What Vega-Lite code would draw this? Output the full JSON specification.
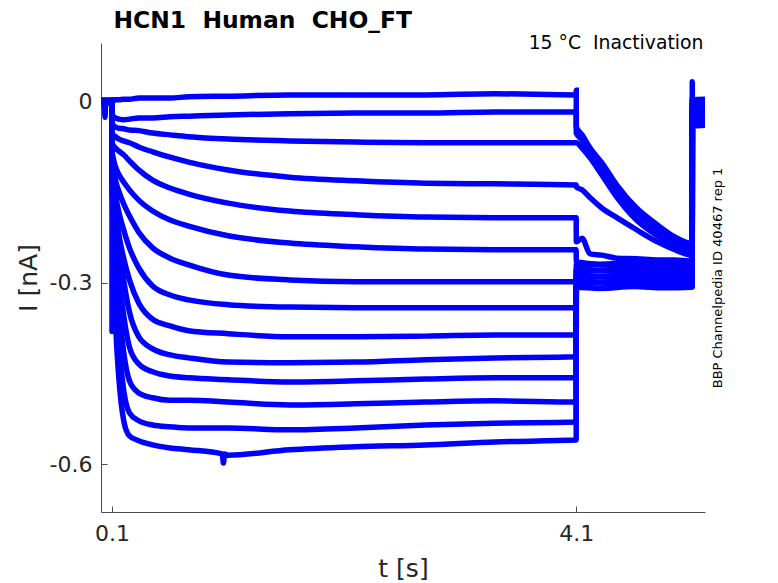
{
  "$schema": "https://vega.github.io/schema/vega-lite/v6.json",
  "background": "#ffffff",
  "autosize": "none",
  "padding": {"left": 101, "top": 43, "right": 73, "bottom": 71},
  "width": 604,
  "height": 469,
  "config": {
    "view": {"stroke": null},
    "font": "DejaVu Sans"
  },
  "data": {
    "values": [
      {"sweep": 1, "t": 0, "I": 0.002}, {"sweep": 1, "t": 0.0995, "I": 0.002},
      {"sweep": 1, "t": 0.1, "I": 0.003}, {"sweep": 1, "t": 0.11, "I": 0.001}, {"sweep": 1, "t": 0.13, "I": 0.003}, {"sweep": 1, "t": 0.16, "I": 0.003},
      {"sweep": 1, "t": 0.2, "I": 0.004}, {"sweep": 1, "t": 0.25, "I": 0.004}, {"sweep": 1, "t": 0.33, "I": 0.006}, {"sweep": 1, "t": 0.45, "I": 0.006},
      {"sweep": 1, "t": 0.6, "I": 0.006}, {"sweep": 1, "t": 0.76, "I": 0.008}, {"sweep": 1, "t": 1.1, "I": 0.009}, {"sweep": 1, "t": 1.63, "I": 0.011},
      {"sweep": 1, "t": 2.2, "I": 0.011}, {"sweep": 1, "t": 2.8, "I": 0.011}, {"sweep": 1, "t": 3.4, "I": 0.013}, {"sweep": 1, "t": 4.1, "I": 0.011},
      {"sweep": 1, "t": 4.1005, "I": 0.019},
      {"sweep": 1, "t": 4.101, "I": -0.042}, {"sweep": 1, "t": 4.15, "I": -0.055}, {"sweep": 1, "t": 4.22, "I": -0.077}, {"sweep": 1, "t": 4.32, "I": -0.101},
      {"sweep": 1, "t": 4.45, "I": -0.138}, {"sweep": 1, "t": 4.62, "I": -0.176}, {"sweep": 1, "t": 4.8, "I": -0.204}, {"sweep": 1, "t": 4.95, "I": -0.224},
      {"sweep": 1, "t": 5.1, "I": -0.235}, {"sweep": 1, "t": 5.101, "I": 0.003}, {"sweep": 1, "t": 5.21, "I": 0.004},

      {"sweep": 2, "t": 0, "I": -0.002}, {"sweep": 2, "t": 0.0995, "I": -0.002},
      {"sweep": 2, "t": 0.1, "I": -0.019}, {"sweep": 2, "t": 0.11, "I": -0.024}, {"sweep": 2, "t": 0.13, "I": -0.027}, {"sweep": 2, "t": 0.16, "I": -0.029},
      {"sweep": 2, "t": 0.2, "I": -0.030}, {"sweep": 2, "t": 0.25, "I": -0.029}, {"sweep": 2, "t": 0.33, "I": -0.027}, {"sweep": 2, "t": 0.45, "I": -0.027},
      {"sweep": 2, "t": 0.6, "I": -0.025}, {"sweep": 2, "t": 0.76, "I": -0.024}, {"sweep": 2, "t": 1.1, "I": -0.022}, {"sweep": 2, "t": 1.63, "I": -0.020},
      {"sweep": 2, "t": 2.2, "I": -0.019}, {"sweep": 2, "t": 2.8, "I": -0.019}, {"sweep": 2, "t": 3.4, "I": -0.017}, {"sweep": 2, "t": 4.1, "I": -0.017},
      {"sweep": 2, "t": 4.101, "I": -0.052}, {"sweep": 2, "t": 4.15, "I": -0.063}, {"sweep": 2, "t": 4.22, "I": -0.083}, {"sweep": 2, "t": 4.32, "I": -0.110},
      {"sweep": 2, "t": 4.45, "I": -0.146}, {"sweep": 2, "t": 4.62, "I": -0.184}, {"sweep": 2, "t": 4.8, "I": -0.212}, {"sweep": 2, "t": 4.95, "I": -0.230},
      {"sweep": 2, "t": 5.1, "I": -0.242}, {"sweep": 2, "t": 5.101, "I": 0.000}, {"sweep": 2, "t": 5.21, "I": 0.001},

      {"sweep": 3, "t": 0, "I": 0.002}, {"sweep": 3, "t": 0.0995, "I": 0.002},
      {"sweep": 3, "t": 0.1, "I": -0.034}, {"sweep": 3, "t": 0.11, "I": -0.039}, {"sweep": 3, "t": 0.13, "I": -0.042}, {"sweep": 3, "t": 0.16, "I": -0.044},
      {"sweep": 3, "t": 0.2, "I": -0.045}, {"sweep": 3, "t": 0.25, "I": -0.047}, {"sweep": 3, "t": 0.33, "I": -0.048}, {"sweep": 3, "t": 0.45, "I": -0.052},
      {"sweep": 3, "t": 0.6, "I": -0.055}, {"sweep": 3, "t": 0.76, "I": -0.058}, {"sweep": 3, "t": 1.1, "I": -0.062}, {"sweep": 3, "t": 1.63, "I": -0.065},
      {"sweep": 3, "t": 2.2, "I": -0.067}, {"sweep": 3, "t": 2.8, "I": -0.068}, {"sweep": 3, "t": 3.4, "I": -0.068}, {"sweep": 3, "t": 4.1, "I": -0.068},
      {"sweep": 3, "t": 4.101, "I": -0.068}, {"sweep": 3, "t": 4.15, "I": -0.077}, {"sweep": 3, "t": 4.22, "I": -0.093}, {"sweep": 3, "t": 4.32, "I": -0.121},
      {"sweep": 3, "t": 4.45, "I": -0.158}, {"sweep": 3, "t": 4.62, "I": -0.196}, {"sweep": 3, "t": 4.8, "I": -0.222}, {"sweep": 3, "t": 4.95, "I": -0.239},
      {"sweep": 3, "t": 5.1, "I": -0.249}, {"sweep": 3, "t": 5.101, "I": -0.004}, {"sweep": 3, "t": 5.21, "I": -0.003},

      {"sweep": 4, "t": 0, "I": -0.002}, {"sweep": 4, "t": 0.0995, "I": -0.002},
      {"sweep": 4, "t": 0.1, "I": -0.050}, {"sweep": 4, "t": 0.11, "I": -0.055}, {"sweep": 4, "t": 0.13, "I": -0.058}, {"sweep": 4, "t": 0.16, "I": -0.062},
      {"sweep": 4, "t": 0.2, "I": -0.065}, {"sweep": 4, "t": 0.25, "I": -0.068}, {"sweep": 4, "t": 0.33, "I": -0.075}, {"sweep": 4, "t": 0.45, "I": -0.083},
      {"sweep": 4, "t": 0.6, "I": -0.092}, {"sweep": 4, "t": 0.76, "I": -0.100}, {"sweep": 4, "t": 1.1, "I": -0.113}, {"sweep": 4, "t": 1.63, "I": -0.125},
      {"sweep": 4, "t": 2.2, "I": -0.131}, {"sweep": 4, "t": 2.8, "I": -0.135}, {"sweep": 4, "t": 3.4, "I": -0.136}, {"sweep": 4, "t": 4.1, "I": -0.138},
      {"sweep": 4, "t": 4.101, "I": -0.141}, {"sweep": 4, "t": 4.15, "I": -0.146}, {"sweep": 4, "t": 4.22, "I": -0.159}, {"sweep": 4, "t": 4.32, "I": -0.176},
      {"sweep": 4, "t": 4.45, "I": -0.192}, {"sweep": 4, "t": 4.62, "I": -0.212}, {"sweep": 4, "t": 4.8, "I": -0.232}, {"sweep": 4, "t": 4.95, "I": -0.245},
      {"sweep": 4, "t": 5.1, "I": -0.254}, {"sweep": 4, "t": 5.101, "I": -0.007}, {"sweep": 4, "t": 5.21, "I": -0.006},

      {"sweep": 5, "t": 0, "I": 0.002}, {"sweep": 5, "t": 0.0995, "I": 0.002},
      {"sweep": 5, "t": 0.1, "I": -0.067}, {"sweep": 5, "t": 0.11, "I": -0.072}, {"sweep": 5, "t": 0.13, "I": -0.077}, {"sweep": 5, "t": 0.16, "I": -0.082},
      {"sweep": 5, "t": 0.2, "I": -0.088}, {"sweep": 5, "t": 0.25, "I": -0.098}, {"sweep": 5, "t": 0.33, "I": -0.113}, {"sweep": 5, "t": 0.45, "I": -0.130},
      {"sweep": 5, "t": 0.6, "I": -0.143}, {"sweep": 5, "t": 0.76, "I": -0.153}, {"sweep": 5, "t": 1.1, "I": -0.168}, {"sweep": 5, "t": 1.63, "I": -0.181},
      {"sweep": 5, "t": 2.2, "I": -0.187}, {"sweep": 5, "t": 2.8, "I": -0.191}, {"sweep": 5, "t": 3.4, "I": -0.192}, {"sweep": 5, "t": 4.1, "I": -0.192},
      {"sweep": 5, "t": 4.101, "I": -0.232}, {"sweep": 5, "t": 4.15, "I": -0.226}, {"sweep": 5, "t": 4.22, "I": -0.252}, {"sweep": 5, "t": 4.32, "I": -0.254},
      {"sweep": 5, "t": 4.45, "I": -0.259}, {"sweep": 5, "t": 4.62, "I": -0.260}, {"sweep": 5, "t": 4.8, "I": -0.262}, {"sweep": 5, "t": 4.95, "I": -0.262},
      {"sweep": 5, "t": 5.1, "I": -0.264}, {"sweep": 5, "t": 5.101, "I": -0.010}, {"sweep": 5, "t": 5.21, "I": -0.009},

      {"sweep": 6, "t": 0, "I": -0.002}, {"sweep": 6, "t": 0.0995, "I": -0.002},
      {"sweep": 6, "t": 0.1, "I": -0.080}, {"sweep": 6, "t": 0.11, "I": -0.093}, {"sweep": 6, "t": 0.13, "I": -0.108}, {"sweep": 6, "t": 0.16, "I": -0.121},
      {"sweep": 6, "t": 0.2, "I": -0.133}, {"sweep": 6, "t": 0.25, "I": -0.146}, {"sweep": 6, "t": 0.33, "I": -0.163}, {"sweep": 6, "t": 0.45, "I": -0.181},
      {"sweep": 6, "t": 0.6, "I": -0.196}, {"sweep": 6, "t": 0.76, "I": -0.206}, {"sweep": 6, "t": 1.1, "I": -0.222}, {"sweep": 6, "t": 1.63, "I": -0.234},
      {"sweep": 6, "t": 2.2, "I": -0.240}, {"sweep": 6, "t": 2.8, "I": -0.244}, {"sweep": 6, "t": 3.4, "I": -0.245}, {"sweep": 6, "t": 4.1, "I": -0.245},
      {"sweep": 6, "t": 4.101, "I": -0.265}, {"sweep": 6, "t": 4.3, "I": -0.269}, {"sweep": 6, "t": 4.6, "I": -0.267}, {"sweep": 6, "t": 4.85, "I": -0.269},
      {"sweep": 6, "t": 5.1, "I": -0.267}, {"sweep": 6, "t": 5.101, "I": -0.014}, {"sweep": 6, "t": 5.21, "I": -0.013},

      {"sweep": 7, "t": 0, "I": 0.002}, {"sweep": 7, "t": 0.0995, "I": 0.002},
      {"sweep": 7, "t": 0.1, "I": -0.091}, {"sweep": 7, "t": 0.11, "I": -0.108}, {"sweep": 7, "t": 0.13, "I": -0.130}, {"sweep": 7, "t": 0.16, "I": -0.149},
      {"sweep": 7, "t": 0.2, "I": -0.169}, {"sweep": 7, "t": 0.25, "I": -0.189}, {"sweep": 7, "t": 0.33, "I": -0.216}, {"sweep": 7, "t": 0.45, "I": -0.242},
      {"sweep": 7, "t": 0.6, "I": -0.259}, {"sweep": 7, "t": 0.76, "I": -0.270}, {"sweep": 7, "t": 1.1, "I": -0.287}, {"sweep": 7, "t": 1.63, "I": -0.295},
      {"sweep": 7, "t": 2.2, "I": -0.298}, {"sweep": 7, "t": 2.8, "I": -0.298}, {"sweep": 7, "t": 3.4, "I": -0.298}, {"sweep": 7, "t": 4.1, "I": -0.298},
      {"sweep": 7, "t": 4.101, "I": -0.272}, {"sweep": 7, "t": 4.3, "I": -0.270}, {"sweep": 7, "t": 4.6, "I": -0.273}, {"sweep": 7, "t": 4.85, "I": -0.271},
      {"sweep": 7, "t": 5.1, "I": -0.272}, {"sweep": 7, "t": 5.101, "I": -0.017}, {"sweep": 7, "t": 5.21, "I": -0.016},

      {"sweep": 8, "t": 0, "I": -0.002}, {"sweep": 8, "t": 0.0995, "I": -0.002},
      {"sweep": 8, "t": 0.1, "I": -0.101}, {"sweep": 8, "t": 0.11, "I": -0.123}, {"sweep": 8, "t": 0.13, "I": -0.154}, {"sweep": 8, "t": 0.16, "I": -0.184},
      {"sweep": 8, "t": 0.2, "I": -0.212}, {"sweep": 8, "t": 0.25, "I": -0.242}, {"sweep": 8, "t": 0.33, "I": -0.275}, {"sweep": 8, "t": 0.45, "I": -0.305},
      {"sweep": 8, "t": 0.6, "I": -0.320}, {"sweep": 8, "t": 0.76, "I": -0.328}, {"sweep": 8, "t": 1.1, "I": -0.336}, {"sweep": 8, "t": 1.63, "I": -0.340},
      {"sweep": 8, "t": 2.2, "I": -0.341}, {"sweep": 8, "t": 2.8, "I": -0.341}, {"sweep": 8, "t": 3.4, "I": -0.341}, {"sweep": 8, "t": 4.1, "I": -0.341},
      {"sweep": 8, "t": 4.101, "I": -0.277}, {"sweep": 8, "t": 4.3, "I": -0.279}, {"sweep": 8, "t": 4.6, "I": -0.276}, {"sweep": 8, "t": 4.85, "I": -0.278},
      {"sweep": 8, "t": 5.1, "I": -0.277}, {"sweep": 8, "t": 5.101, "I": -0.020}, {"sweep": 8, "t": 5.21, "I": -0.019},

      {"sweep": 9, "t": 0, "I": 0.002}, {"sweep": 9, "t": 0.0995, "I": 0.002},
      {"sweep": 9, "t": 0.1, "I": -0.110}, {"sweep": 9, "t": 0.11, "I": -0.138}, {"sweep": 9, "t": 0.13, "I": -0.179}, {"sweep": 9, "t": 0.16, "I": -0.221},
      {"sweep": 9, "t": 0.2, "I": -0.259}, {"sweep": 9, "t": 0.25, "I": -0.295}, {"sweep": 9, "t": 0.33, "I": -0.333}, {"sweep": 9, "t": 0.45, "I": -0.360},
      {"sweep": 9, "t": 0.6, "I": -0.371}, {"sweep": 9, "t": 0.76, "I": -0.379}, {"sweep": 9, "t": 1.1, "I": -0.384}, {"sweep": 9, "t": 1.63, "I": -0.389},
      {"sweep": 9, "t": 2.2, "I": -0.389}, {"sweep": 9, "t": 2.8, "I": -0.388}, {"sweep": 9, "t": 3.4, "I": -0.386}, {"sweep": 9, "t": 4.1, "I": -0.386},
      {"sweep": 9, "t": 4.101, "I": -0.282}, {"sweep": 9, "t": 4.3, "I": -0.280}, {"sweep": 9, "t": 4.6, "I": -0.283}, {"sweep": 9, "t": 4.85, "I": -0.281},
      {"sweep": 9, "t": 5.1, "I": -0.282}, {"sweep": 9, "t": 5.101, "I": -0.024}, {"sweep": 9, "t": 5.21, "I": -0.023},

      {"sweep": 10, "t": 0, "I": -0.002}, {"sweep": 10, "t": 0.0995, "I": -0.002},
      {"sweep": 10, "t": 0.1, "I": -0.116}, {"sweep": 10, "t": 0.11, "I": -0.139}, {"sweep": 10, "t": 0.13, "I": -0.182}, {"sweep": 10, "t": 0.16, "I": -0.237},
      {"sweep": 10, "t": 0.2, "I": -0.295}, {"sweep": 10, "t": 0.25, "I": -0.348}, {"sweep": 10, "t": 0.33, "I": -0.389}, {"sweep": 10, "t": 0.45, "I": -0.409},
      {"sweep": 10, "t": 0.6, "I": -0.419}, {"sweep": 10, "t": 0.76, "I": -0.424}, {"sweep": 10, "t": 1.1, "I": -0.431}, {"sweep": 10, "t": 1.63, "I": -0.432},
      {"sweep": 10, "t": 2.2, "I": -0.431}, {"sweep": 10, "t": 2.8, "I": -0.427}, {"sweep": 10, "t": 3.4, "I": -0.424}, {"sweep": 10, "t": 4.1, "I": -0.422},
      {"sweep": 10, "t": 4.101, "I": -0.287}, {"sweep": 10, "t": 4.3, "I": -0.289}, {"sweep": 10, "t": 4.6, "I": -0.286}, {"sweep": 10, "t": 4.85, "I": -0.288},
      {"sweep": 10, "t": 5.1, "I": -0.287}, {"sweep": 10, "t": 5.101, "I": -0.027}, {"sweep": 10, "t": 5.21, "I": -0.026},

      {"sweep": 11, "t": 0, "I": 0.002}, {"sweep": 11, "t": 0.0995, "I": 0.002},
      {"sweep": 11, "t": 0.1, "I": -0.123}, {"sweep": 11, "t": 0.11, "I": -0.154}, {"sweep": 11, "t": 0.13, "I": -0.216}, {"sweep": 11, "t": 0.16, "I": -0.287},
      {"sweep": 11, "t": 0.2, "I": -0.353}, {"sweep": 11, "t": 0.25, "I": -0.406}, {"sweep": 11, "t": 0.33, "I": -0.434}, {"sweep": 11, "t": 0.45, "I": -0.447},
      {"sweep": 11, "t": 0.6, "I": -0.454}, {"sweep": 11, "t": 0.76, "I": -0.457}, {"sweep": 11, "t": 1.1, "I": -0.460}, {"sweep": 11, "t": 1.63, "I": -0.464},
      {"sweep": 11, "t": 2.2, "I": -0.462}, {"sweep": 11, "t": 2.8, "I": -0.459}, {"sweep": 11, "t": 3.4, "I": -0.457}, {"sweep": 11, "t": 4.1, "I": -0.457},
      {"sweep": 11, "t": 4.101, "I": -0.292}, {"sweep": 11, "t": 4.3, "I": -0.290}, {"sweep": 11, "t": 4.6, "I": -0.293}, {"sweep": 11, "t": 4.85, "I": -0.291},
      {"sweep": 11, "t": 5.1, "I": -0.292}, {"sweep": 11, "t": 5.101, "I": -0.030}, {"sweep": 11, "t": 5.21, "I": -0.029},

      {"sweep": 12, "t": 0, "I": -0.002}, {"sweep": 12, "t": 0.0995, "I": -0.002},
      {"sweep": 12, "t": 0.1, "I": -0.130}, {"sweep": 12, "t": 0.11, "I": -0.171}, {"sweep": 12, "t": 0.13, "I": -0.254}, {"sweep": 12, "t": 0.16, "I": -0.341},
      {"sweep": 12, "t": 0.2, "I": -0.414}, {"sweep": 12, "t": 0.25, "I": -0.462}, {"sweep": 12, "t": 0.33, "I": -0.482}, {"sweep": 12, "t": 0.45, "I": -0.490},
      {"sweep": 12, "t": 0.6, "I": -0.494}, {"sweep": 12, "t": 0.76, "I": -0.494}, {"sweep": 12, "t": 1.1, "I": -0.497}, {"sweep": 12, "t": 1.63, "I": -0.502},
      {"sweep": 12, "t": 2.2, "I": -0.500}, {"sweep": 12, "t": 2.8, "I": -0.497}, {"sweep": 12, "t": 3.4, "I": -0.495}, {"sweep": 12, "t": 4.1, "I": -0.497},
      {"sweep": 12, "t": 4.101, "I": -0.297}, {"sweep": 12, "t": 4.3, "I": -0.299}, {"sweep": 12, "t": 4.6, "I": -0.296}, {"sweep": 12, "t": 4.85, "I": -0.298},
      {"sweep": 12, "t": 5.1, "I": -0.297}, {"sweep": 12, "t": 5.101, "I": -0.034}, {"sweep": 12, "t": 5.21, "I": -0.033},

      {"sweep": 13, "t": 0, "I": 0.002}, {"sweep": 13, "t": 0.035, "I": -0.002}, {"sweep": 13, "t": 0.04, "I": -0.026}, {"sweep": 13, "t": 0.045, "I": -0.002}, {"sweep": 13, "t": 0.0995, "I": 0.002},
      {"sweep": 13, "t": 0.1, "I": -0.136}, {"sweep": 13, "t": 0.11, "I": -0.192}, {"sweep": 13, "t": 0.13, "I": -0.303}, {"sweep": 13, "t": 0.16, "I": -0.403},
      {"sweep": 13, "t": 0.2, "I": -0.477}, {"sweep": 13, "t": 0.25, "I": -0.515}, {"sweep": 13, "t": 0.33, "I": -0.528}, {"sweep": 13, "t": 0.45, "I": -0.535},
      {"sweep": 13, "t": 0.6, "I": -0.538}, {"sweep": 13, "t": 0.76, "I": -0.540}, {"sweep": 13, "t": 1.1, "I": -0.540}, {"sweep": 13, "t": 1.63, "I": -0.543},
      {"sweep": 13, "t": 2.2, "I": -0.540}, {"sweep": 13, "t": 2.8, "I": -0.535}, {"sweep": 13, "t": 3.4, "I": -0.532}, {"sweep": 13, "t": 4.1, "I": -0.530},
      {"sweep": 13, "t": 4.101, "I": -0.302}, {"sweep": 13, "t": 4.3, "I": -0.300}, {"sweep": 13, "t": 4.6, "I": -0.303}, {"sweep": 13, "t": 4.85, "I": -0.301},
      {"sweep": 13, "t": 5.1, "I": -0.302}, {"sweep": 13, "t": 5.101, "I": -0.037}, {"sweep": 13, "t": 5.21, "I": -0.036},

      {"sweep": 14, "t": 0, "I": -0.002}, {"sweep": 14, "t": 0.0995, "I": -0.002}, {"sweep": 14, "t": 0.1, "I": -0.380},
      {"sweep": 14, "t": 0.1005, "I": -0.143}, {"sweep": 14, "t": 0.11, "I": -0.221}, {"sweep": 14, "t": 0.13, "I": -0.361}, {"sweep": 14, "t": 0.16, "I": -0.460},
      {"sweep": 14, "t": 0.2, "I": -0.527}, {"sweep": 14, "t": 0.25, "I": -0.553}, {"sweep": 14, "t": 0.33, "I": -0.561}, {"sweep": 14, "t": 0.45, "I": -0.568},
      {"sweep": 14, "t": 0.6, "I": -0.573}, {"sweep": 14, "t": 0.76, "I": -0.576}, {"sweep": 14, "t": 1.05, "I": -0.583}, {"sweep": 14, "t": 1.06, "I": -0.598},
      {"sweep": 14, "t": 1.07, "I": -0.583}, {"sweep": 14, "t": 1.1, "I": -0.585}, {"sweep": 14, "t": 1.63, "I": -0.576},
      {"sweep": 14, "t": 2.2, "I": -0.571}, {"sweep": 14, "t": 2.8, "I": -0.568}, {"sweep": 14, "t": 3.4, "I": -0.563}, {"sweep": 14, "t": 4.1, "I": -0.560},
      {"sweep": 14, "t": 4.101, "I": -0.307}, {"sweep": 14, "t": 4.3, "I": -0.309}, {"sweep": 14, "t": 4.6, "I": -0.306}, {"sweep": 14, "t": 4.85, "I": -0.308},
      {"sweep": 14, "t": 5.1, "I": -0.307}, {"sweep": 14, "t": 5.1005, "I": 0.033}, {"sweep": 14, "t": 5.101, "I": -0.040}, {"sweep": 14, "t": 5.21, "I": -0.039}
    ]
  },
  "encoding": {
    "detail": {"field": "sweep", "type": "nominal"}
  },
  "layer": [
    {
      "mark": {"type": "line", "color": "#0000ff", "strokeWidth": 5.5, "interpolate": "monotone", "clip": true},
      "encoding": {
        "x": {
          "field": "t",
          "type": "quantitative",
          "scale": {"domain": [0.005, 5.21], "nice": false, "zero": false},
          "axis": {
            "orient": "bottom",
            "values": [0.1, 4.1],
            "format": ".1f",
            "grid": false,
            "title": "t [s]",
            "titleFontSize": 25,
            "titleFontWeight": "normal",
            "titleColor": "#262626",
            "titleX": 302,
            "titleY": 56,
            "titleBaseline": "middle",
            "labelFontSize": 22,
            "labelColor": "#262626",
            "labelPadding": 17,
            "labelFlush": false,
            "domainColor": "#4d4d4d",
            "tickColor": "#4d4d4d",
            "tickSize": -6
          }
        },
        "y": {
          "field": "I",
          "type": "quantitative",
          "scale": {"domain": [-0.679, 0.097], "nice": false, "zero": false},
          "axis": {
            "orient": "left",
            "values": [0, -0.3, -0.6],
            "labelExpr": "datum.value == 0 ? '0' : '-' + format(-datum.value, '.1f')",
            "grid": false,
            "title": "I [nA]",
            "titleFontSize": 25,
            "titleFontWeight": "normal",
            "titleColor": "#262626",
            "titleAngle": -90,
            "titleX": -73,
            "titleY": 234.5,
            "titleBaseline": "middle",
            "titleAlign": "center",
            "labelFontSize": 22,
            "labelColor": "#262626",
            "labelPadding": 15,
            "labelFlush": false,
            "domainColor": "#4d4d4d",
            "tickColor": "#4d4d4d",
            "tickSize": -6
          }
        }
      }
    },
    {
      "transform": [{"filter": "datum.sweep == 1"}],
      "mark": {"type": "line", "opacity": 0},
      "encoding": {
        "x": {
          "field": "t",
          "type": "quantitative",
          "axis": {
            "orient": "top",
            "domain": false,
            "ticks": false,
            "tickSize": 0,
            "grid": false,
            "values": [5.192],
            "labelExpr": "'15 °C\u00a0\u00a0Inactivation'",
            "labelFontSize": 18.8,
            "labelColor": "#000000",
            "labelAlign": "right",
            "labelBaseline": "alphabetic",
            "labelPadding": -5,
            "labelFlush": false,
            "labelOverlap": false,
            "labelBound": false,
            "labelLimit": 400,
            "title": "HCN1\u00a0\u00a0Human\u00a0\u00a0CHO_FT",
            "titleFontSize": 23.4,
            "titleFontWeight": "bold",
            "titleColor": "#000000",
            "titleAnchor": "start",
            "titleAlign": "left",
            "titleBaseline": "alphabetic",
            "titleX": 12,
            "titleY": -16
          }
        },
        "y": {
          "field": "I",
          "type": "quantitative",
          "axis": {
            "orient": "right",
            "domain": false,
            "ticks": false,
            "labels": false,
            "grid": false,
            "title": "BBP Channelpedia ID 40467 rep 1",
            "titleFontSize": 13,
            "titleFontWeight": "normal",
            "titleColor": "#000000",
            "titleAngle": -90,
            "titleX": 12,
            "titleY": 234.5,
            "titleBaseline": "middle",
            "titleAlign": "center"
          }
        }
      }
    }
  ],
  "resolve": {"axis": {"x": "independent", "y": "independent"}}
}
